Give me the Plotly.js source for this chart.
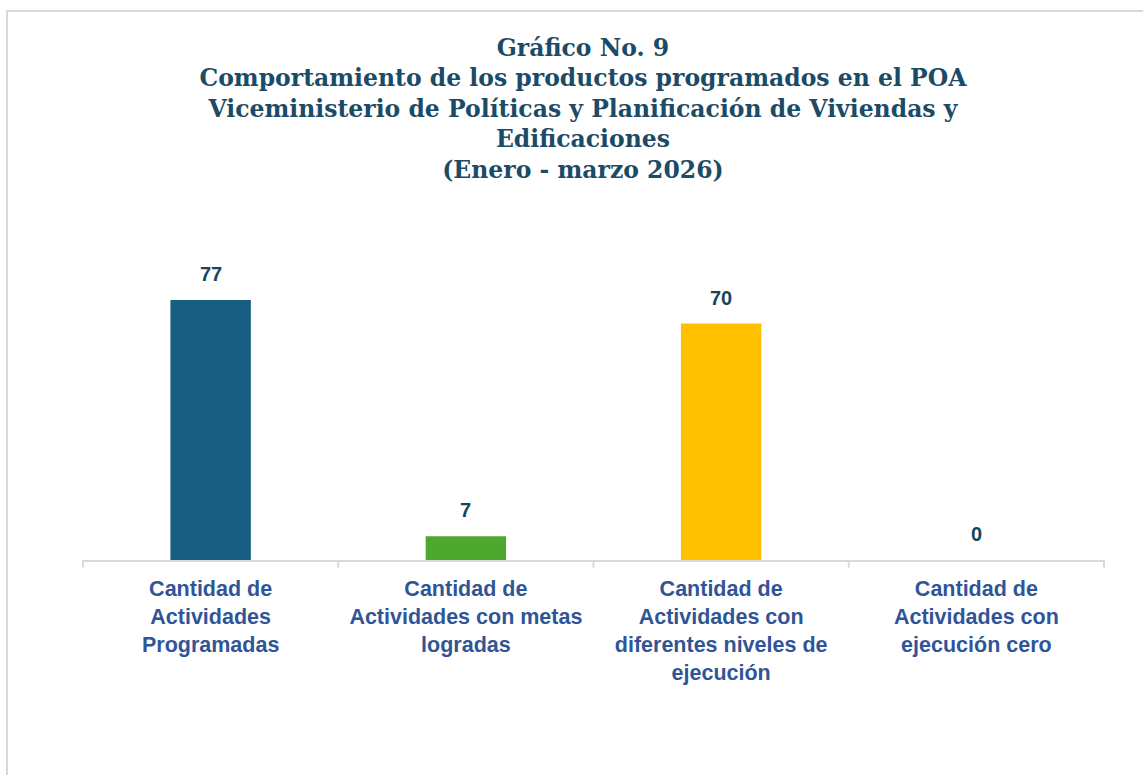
<!DOCTYPE html>
<html>
<head>
<meta charset="utf-8">
<script src="https://cdn.plot.ly/plotly-3.0.1.min.js"></script>
<style>
  html, body { margin: 0; padding: 0; background: #ffffff; }
  #chart { width: 1143px; height: 775px; }
</style>
</head>
<body>
<div id="chart"></div>
<script>
// categories and values
var categories = [
    'Cantidad de<br>Actividades<br>Programadas',
    'Cantidad de<br>Actividades con metas<br>logradas',
    'Cantidad de<br>Actividades con<br>diferentes niveles de<br>ejecución',
    'Cantidad de<br>Actividades con<br>ejecución cero'
];
var values = [77, 7, 70, 0];
var barColors = ['#175E80', '#4EA72E', '#FFC000', '#A5A5A5'];

var titleLines = [
    'Gráfico No. 9',
    'Comportamiento de los productos programados en el POA',
    'Viceministerio de Políticas y Planificación de Viviendas y',
    'Edificaciones',
    '(Enero - marzo 2026)'
];

var trace = {
    x: categories,
    y: values,
    type: 'bar',
    marker: { color: barColors },
    hoverinfo: 'x+y'
};

// value labels above each bar
var labels = categories.map(function (c, i) {
    return {
        x: c,
        y: values[i],
        text: String(values[i]),
        showarrow: false,
        yanchor: 'bottom',
        yshift: 13,
        font: { family: 'Liberation Sans, Arial, sans-serif', size: 20, color: '#17465C', weight: 'bold' }
    };
});

var layout = {
    width: 1143,
    height: 775,
    paper_bgcolor: '#ffffff',
    plot_bgcolor: '#ffffff',
    margin: { l: 82, r: 38, t: 256, b: 215 },
    title: {
        text: titleLines.join('<br>'),
        x: 0.51,
        xanchor: 'center',
        y: 0.928,
        yanchor: 'top',
        yref: 'container',
        font: { family: 'DejaVu Serif, serif', size: 23.5, color: '#1B4B66', weight: 'bold' }
    },
    bargap: 0.685,
    showlegend: false,
    xaxis: {
        showline: true,
        linecolor: '#D9D9D9',
        linewidth: 2,
        ticks: '',
        showgrid: false,
        tickfont: { family: 'Liberation Sans, Arial, sans-serif', size: 21.5, color: '#2F5597', weight: 'bold' },
        ticklabelstandoff: 8
    },
    yaxis: {
        range: [0, 90],
        visible: false,
        showgrid: false,
        zeroline: false,
        fixedrange: true
    },
    annotations: labels,
    shapes: [
        // outer chart border
        {
            type: 'rect', xref: 'paper', yref: 'paper',
            x0: -0.0733, x1: 1.2, y0: -1, y1: 1.806,
            line: { color: '#D9D9D9', width: 2 }
        }
    ]
};

// category separators under the axis
for (var i = 0; i <= categories.length; i++) {
    layout.shapes.push({
        type: 'line', xref: 'x', yref: 'paper',
        x0: i - 0.5, x1: i - 0.5, y0: 0, y1: -0.025,
        line: { color: '#D9D9D9', width: 2 }
    });
}

Plotly.newPlot('chart', [trace], layout, { displayModeBar: false, staticPlot: true });
</script>
</body>
</html>
